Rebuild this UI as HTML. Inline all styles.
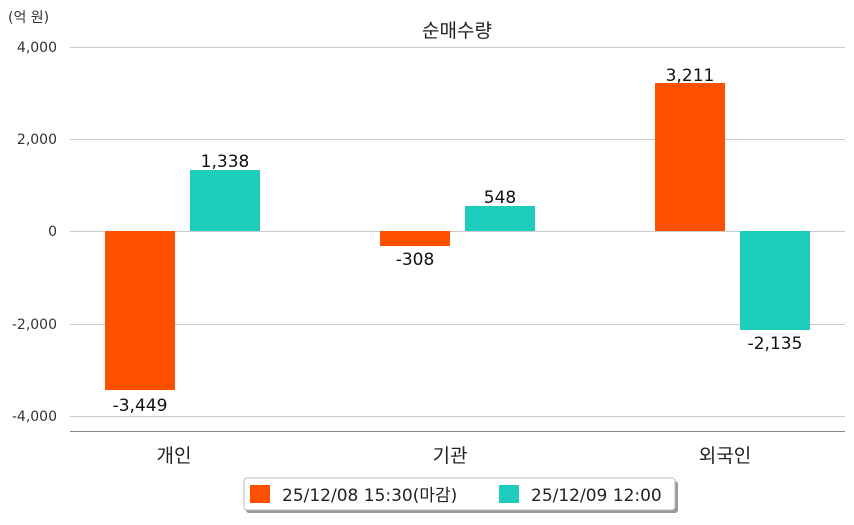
<!DOCTYPE html>
<html><head><meta charset="utf-8"><style>
body{margin:0;background:#fff;width:854px;height:520px;overflow:hidden}
</style></head><body>
<svg width="854" height="520" xmlns="http://www.w3.org/2000/svg" font-family="DejaVu Sans, Noto Sans CJK KR, sans-serif">
<g stroke="#cccccc" stroke-width="1">
<line x1="70" y1="47.5" x2="845" y2="47.5"/>
<line x1="70" y1="139.5" x2="845" y2="139.5"/>
<line x1="70" y1="231.5" x2="845" y2="231.5"/>
<line x1="70" y1="324.5" x2="845" y2="324.5"/>
<line x1="70" y1="416.5" x2="845" y2="416.5"/>
</g>
<line x1="70" y1="431.5" x2="845" y2="431.5" stroke="#888" stroke-width="1"/>
<g font-size="14" fill="#333" text-anchor="end">
<text x="57" y="52">4,000</text>
<text x="57" y="144">2,000</text>
<text x="57" y="236">0</text>
<text x="57" y="329">-2,000</text>
<text x="57" y="421">-4,000</text>
</g>
<text x="8" y="22" font-size="14" fill="#333">(억 원)</text>
<text x="457" y="37" font-size="19" fill="#222" text-anchor="middle">순매수량</text>
<g fill="#ff5000">
<rect x="105" y="231" width="70" height="159"/>
<rect x="380" y="231" width="70" height="15"/>
<rect x="655" y="83" width="70" height="148"/>
</g>
<g fill="#1ecdbd">
<rect x="190" y="170" width="70" height="61"/>
<rect x="465" y="206" width="70" height="25"/>
<rect x="740" y="231" width="70" height="99"/>
</g>
<g font-size="17" fill="#111" text-anchor="middle">
<text x="140" y="411">-3,449</text>
<text x="225" y="167">1,338</text>
<text x="415" y="265">-308</text>
<text x="500" y="203">548</text>
<text x="690" y="81">3,211</text>
<text x="775" y="349">-2,135</text>
</g>
<g font-size="19" fill="#222" text-anchor="middle">
<text x="174" y="462">개인</text>
<text x="450" y="462">기관</text>
<text x="725" y="462">외국인</text>
</g>
<rect x="246" y="481" width="432" height="32" rx="3" fill="#999"/>
<rect x="244" y="478" width="431" height="32" rx="3" fill="#fff" stroke="#bbb"/>
<rect x="250" y="485" width="20" height="18" fill="#ff5000"/>
<text x="282" y="501" font-size="17" fill="#222">25/12/08 15:30(마감)</text>
<rect x="499" y="485" width="20" height="18" fill="#1ecdbd"/>
<text x="531" y="501" font-size="17" fill="#222">25/12/09 12:00</text>
</svg>
</body></html>
